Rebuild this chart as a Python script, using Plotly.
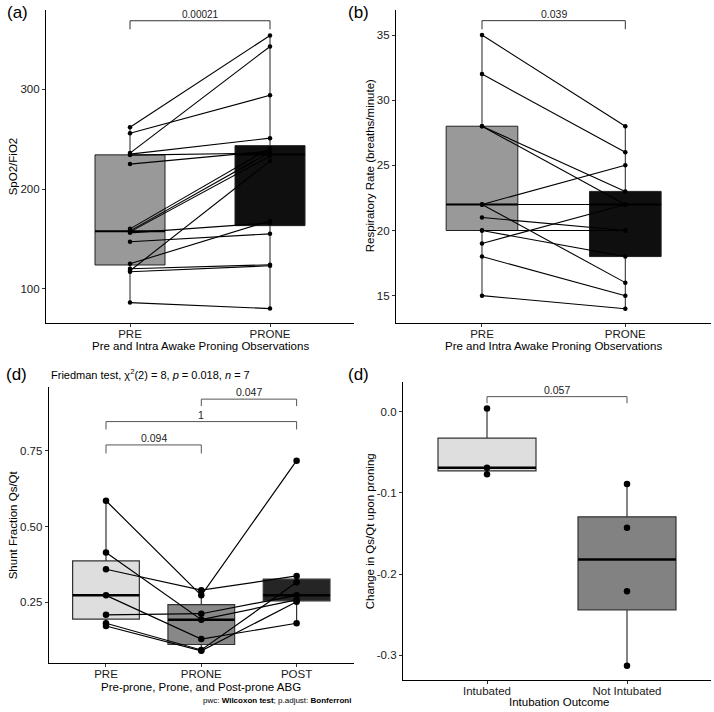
import numpy as np
import plotly.graph_objects as go

# ---------------- data ----------------
# Panel (a): SpO2/FiO2, paired PRE -> PRONE
a_groups = ["PRE", "PRONE"]
a_pre = [262, 256, 236, 235, 234, 225, 160, 158, 157, 156, 147, 125, 120, 118, 117, 86]
a_prone = [354, 294, 343, 251, 236, 238, 241, 237, 233, 166, 155, 168, 124, 228, 123, 80]
a_p = "0.00021"

# Panel (b): Respiratory rate, paired PRE -> PRONE
b_groups = ["PRE", "PRONE"]
b_pre = [35, 32, 28, 28, 22, 22, 22, 21, 20, 20, 19, 18, 15]
b_prone = [28, 26, 23, 22, 25, 22, 16, 20, 20, 18, 22, 15, 14]
b_p = "0.039"

# Panel (d, left): shunt fraction, paired PRE -> PRONE -> POST
c_groups = ["PRE", "PRONE", "POST"]
c_pre = [0.585, 0.359, 0.414, 0.209, 0.273, 0.181, 0.172]
c_prone = [0.273, 0.290, 0.193, 0.2125, 0.129, 0.093, 0.090]
c_post = [0.717, 0.337, 0.258, 0.273, 0.181, 0.316, 0.252]
c_pairs = [(0, 1, "0.094"), (0, 2, "1"), (1, 2, "0.047")]

# Panel (d, right): change in Qs/Qt by intubation outcome
e_groups = ["Intubated", "Not Intubated"]
e_intubated = [0.004, -0.069, -0.077]
e_not_intubated = [-0.089, -0.143, -0.221, -0.313]
e_p = "0.057"

# ---------------- layout helpers ----------------
W, H = 714, 712
FONT = "Liberation Sans, Arial, sans-serif"


def px_x(a, b):
    return [a / W, b / W]


def px_y(top, bottom):
    return [1 - bottom / H, 1 - top / H]


def box_stats(v):
    v = np.asarray(v, float)
    q1, med, q3 = np.percentile(v, [25, 50, 75])
    iqr = q3 - q1
    lo = v[v >= q1 - 1.5 * iqr].min()
    hi = v[v <= q3 + 1.5 * iqr].max()
    return q1, med, q3, lo, hi


fig = go.Figure()


def add_box(pos, vals, width, fill, xa, ya, lw, mlw, lc):
    q1, med, q3, lo, hi = box_stats(vals)
    fig.add_trace(go.Box(x=[pos], q1=[q1], median=[med], q3=[q3],
                         lowerfence=[lo], upperfence=[hi], width=width,
                         fillcolor=fill, line=dict(color=lc, width=lw),
                         whiskerwidth=0, boxpoints=False, xaxis=xa, yaxis=ya,
                         showlegend=False, hoverinfo="skip"))
    fig.add_trace(go.Scatter(x=[pos - width / 2, pos + width / 2], y=[med, med],
                             mode="lines", line=dict(color="black", width=mlw),
                             xaxis=xa, yaxis=ya, showlegend=False, hoverinfo="skip"))


def add_paired(series, xa, ya, msize, lw):
    n = len(series[0])
    xs, ys = [], []
    for i in range(n):
        for g, s in enumerate(series):
            xs.append(g)
            ys.append(s[i])
        xs.append(None)
        ys.append(None)
    fig.add_trace(go.Scatter(x=xs, y=ys, mode="lines", line=dict(color="black", width=lw),
                             xaxis=xa, yaxis=ya, showlegend=False, hoverinfo="skip"))
    px_, py_ = [], []
    for g, s in enumerate(series):
        px_ += [g] * len(s)
        py_ += list(s)
    fig.add_trace(go.Scatter(x=px_, y=py_, mode="markers",
                             marker=dict(color="black", size=msize),
                             xaxis=xa, yaxis=ya, showlegend=False, hoverinfo="skip"))


def add_bracket(g1, g2, top, tip, label, xa, ya, color, fsize):
    fig.add_trace(go.Scatter(x=[g1, g1, g2, g2], y=[tip, top, top, tip], mode="lines",
                             line=dict(color=color, width=1), xaxis=xa, yaxis=ya,
                             showlegend=False, hoverinfo="skip"))
    fig.add_annotation(x=(g1 + g2) / 2, y=top, xref=xa, yref=ya, text=label,
                       showarrow=False, yanchor="bottom", yshift=-1,
                       font=dict(family=FONT, size=fsize, color="#222"))


# ---------------- panel (a) ----------------
add_box(0, a_pre, 0.5, "#999999", "x", "y", 1, 2, "#222")
add_box(1, a_prone, 0.5, "#0f0f0f", "x", "y", 1, 2, "#222")
add_paired([a_pre, a_prone], "x", "y", 4.5, 1.1)
add_bracket(0, 1, 368.8, 360.2, a_p, "x", "y", "#333", 10)

# ---------------- panel (b) ----------------
add_box(0, b_pre, 0.5, "#999999", "x2", "y2", 1, 2, "#222")
add_box(1, b_prone, 0.5, "#0f0f0f", "x2", "y2", 1, 2, "#222")
add_paired([b_pre, b_prone], "x2", "y2", 4.5, 1.1)
add_bracket(0, 1, 36.1, 35.44, b_p, "x2", "y2", "#333", 10.5)

# ---------------- panel (d, left) ----------------
for g, (vals, fill) in enumerate(zip([c_pre, c_prone, c_post], ["#dedede", "#888888", "#252525"])):
    add_box(g, vals, 0.7, fill, "x3", "y3", 1.2, 2.5, "#333")
add_paired([c_pre, c_prone, c_post], "x3", "y3", 6.5, 1.2)
bracket_c = {"0.094": (0.769, 0.741), "1": (0.846, 0.82), "0.047": (0.92, 0.897)}
for g1, g2, lab in c_pairs:
    top, tip = bracket_c[lab]
    add_bracket(g1, g2, top, tip, lab, "x3", "y3", "#555", 10.5)

# ---------------- panel (d, right) ----------------
for g, (vals, fill) in enumerate(zip([e_intubated, e_not_intubated], ["#dedede", "#828282"])):
    add_box(g, vals, 0.7, fill, "x4", "y4", 1.2, 2.5, "#333")
    fig.add_trace(go.Scatter(x=[g] * len(vals), y=vals, mode="markers",
                             marker=dict(color="black", size=6.5), xaxis="x4", yaxis="y4",
                             showlegend=False, hoverinfo="skip"))
add_bracket(0, 1, 0.0185, 0.0103, e_p, "x4", "y4", "#555", 10.5)

# ---------------- axes ----------------
tickfont = dict(family=FONT, size=11.5, color="#1a1a1a")


def ax(dom, rng, tv, tt, anchor, standoff=0):
    return dict(domain=dom, range=rng, tickvals=tv, ticktext=tt, anchor=anchor,
                showline=True, linecolor="black", linewidth=1.2, ticks="outside",
                ticklen=3, tickcolor="#333", tickwidth=1, showgrid=False,
                zeroline=False, tickfont=tickfont, fixedrange=True,
                ticklabelstandoff=standoff)


fig.update_layout(
    width=W, height=H, margin=dict(l=0, r=0, t=0, b=0),
    paper_bgcolor="white", plot_bgcolor="white", showlegend=False,
    xaxis=ax(px_x(46, 354), [-0.6, 1.6], [0, 1], a_groups, "y", -3),
    yaxis=ax(px_y(10, 323), [65.55, 379.6], [100, 200, 300], ["100", "200", "300"], "x"),
    xaxis2=ax(px_x(396, 711.3), [-0.6, 1.6], [0, 1], b_groups, "y2", -3),
    yaxis2=ax(px_y(10, 322.7), [12.926, 36.918], [15, 20, 25, 30, 35],
              ["15", "20", "25", "30", "35"], "x2"),
    xaxis3=ax(px_x(48.8, 353.8), [-0.6, 2.6], [0, 1, 2], c_groups, "y3", -3),
    yaxis3=ax(px_y(386.7, 662.7), [0.051, 0.961], [0.25, 0.5, 0.75],
              ["0.25", "0.50", "0.75"], "x3"),
    xaxis4=ax(px_x(403, 711), [-0.6, 1.6], [0, 1], e_groups, "y4", -3),
    yaxis4=ax(px_y(381.7, 680), [-0.3304, 0.0369], [0, -0.1, -0.2, -0.3],
              ["0.0", "-0.1", "-0.2", "-0.3"], "x4"),
)


def note(text, x, y, size, angle=0, xanchor="center", color="black"):
    fig.add_annotation(text=text, x=x / W, y=1 - y / H, xref="paper", yref="paper",
                       showarrow=False, textangle=angle, xanchor=xanchor, yanchor="middle",
                       font=dict(family=FONT, size=size, color=color))


# axis titles
note("Pre and Intra Awake Proning Observations", 200, 346, 11.5)
note("Pre and Intra Awake Proning Observations", 553.6, 346, 11.5)
note("Pre-prone, Prone, and Post-prone ABG", 201.3, 687, 11.5)
note("Intubation Outcome", 559, 702, 11.5)
note("SpO2/FiO2", 13.3, 166, 11.5, angle=-90)
note("Respiratory Rate (breaths/minute)", 370.3, 166, 11.5, angle=-90)
note("Shunt Fraction Qs/Qt", 13.3, 525, 11.5, angle=-90)
note("Change in Qs/Qt upon proning", 370.3, 531, 11.5, angle=-90)

# panel labels
note("(a)", 5, 13, 17, xanchor="left")
note("(b)", 346, 13, 17, xanchor="left")
note("(d)", 4, 374, 17, xanchor="left")
note("(d)", 346, 374, 17, xanchor="left")

# subtitle and caption for panel (d, left)
note("Friedman test, χ<sup>2</sup>(2) = 8, <i>p</i> = 0.018, <i>n</i> = 7", 49, 374, 11, xanchor="left")
note("pwc: <b>Wilcoxon test</b>; p.adjust: <b>Bonferroni</b>", 353, 700.7, 8, xanchor="right")

fig.write_html("out.html", config={"displayModeBar": False},
               post_script="document.body.style.margin='0px';document.body.style.overflow='hidden';")
